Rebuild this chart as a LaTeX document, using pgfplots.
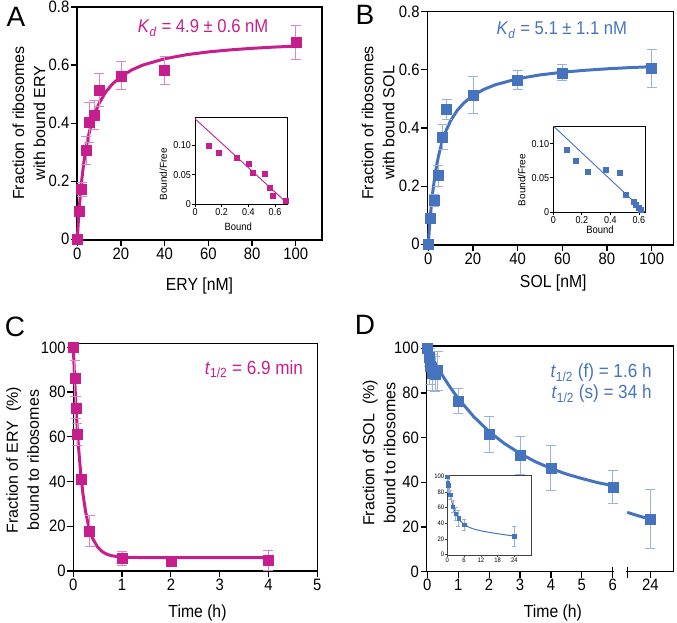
\documentclass[border=0pt]{standalone}
\usepackage{fontspec}
\setmainfont{Liberation Sans}[FakeStretch=0.9]
\newfontfamily\plainsans{Liberation Sans}
\usepackage{pgfplots}
\usepackage{pgfplotstable}
\pgfplotsset{compat=1.18}
\definecolor{mag}{RGB}{198,30,140}
\definecolor{blu}{RGB}{70,115,190}
\newcommand\fs{\fontsize{16.5}{19}\selectfont}
\pgfplotsset{
  panel/.style={
    scale only axis, clip=false, anchor=south west,
    axis line style={line width=1.3pt},
    tick align=outside, xtick pos=left, ytick pos=left,
    major tick length=6pt,
    tick style={line width=1.2pt, black},
    tick label style={font=\fs, inner sep=1.5pt},
    /pgf/number format/assume math mode=true,
    x label style={font=\fontsize{17.5}{19}\selectfont, anchor=center},
    y label style={font=\plainsans\fontsize{16}{21}\selectfont, anchor=center, align=center},
  },
  inset/.style={
    scale only axis, anchor=south west,
    axis background/.style={fill=white},
    axis line style={line width=0.9pt},
    tick align=outside, xtick pos=left, ytick pos=left,
    major tick length=3pt,
    tick style={line width=0.8pt, black},
    tick label style={font=\fontsize{10}{11}\selectfont, inner sep=1pt},
    /pgf/number format/assume math mode=true,
    x label style={font=\fontsize{10.5}{11}\selectfont, anchor=center},
    y label style={font=\plainsans\fontsize{10}{11}\selectfont, anchor=center},
  },
  dat/.style 2 args={only marks, mark=square*, mark size=#2, color=#1,
    error bars/.cd, y dir=both, y explicit,
    error bar style={#1!55, line width=0.9pt},
    error mark options={rotate=90, mark size=5pt, line width=0.9pt, #1!55}},
}

\pgfplotstableread{
x y e
0 0 0
1 0.097 0.01
2 0.172 0.023
4 0.306 0.047
5.5 0.402 0.07
7.8 0.429 0.05
10 0.515 0.056
20 0.563 0.048
40 0.582 0.049
100 0.678 0.06
}\dataA
\pgfplotstableread{
x y
0.10 0.099
0.175 0.088
0.31 0.078
0.40 0.068
0.43 0.054
0.52 0.052
0.56 0.028
0.58 0.014
0.68 0.006
}\insetA
\pgfplotstableread{
x y e
0 0 0
1 0.089 0.01
2.5 0.150 0.02
4.5 0.236 0.036
6.4 0.370 0.043
8.2 0.464 0.033
20 0.513 0.063
40 0.565 0.033
60 0.590 0.027
100 0.605 0.064
}\dataB
\pgfplotstableread{
x y
0.093 0.091
0.154 0.075
0.238 0.0585
0.369 0.062
0.463 0.058
0.509 0.025
0.561 0.0146
0.58 0.011
0.596 0.007
0.61 0.004
}\insetB
\pgfplotstableread{
x y e
0 100 0
0.033 86 8
0.05 73 5
0.083 61 5
0.167 41 2
0.333 18 7
1 5.7 3
2 4.5 1
4 4.9 4.5
}\dataC
\pgfplotstableread{
x y e
0 100 0
0.05 96 4
0.083 92 8
0.167 89 8
0.25 88.5 8
0.33 90 8.7
1 76.5 5.5
2 61.5 8
3 52 8.4
4 46.5 10
6 38 7.5
}\dataD
\pgfplotstableread{
x y e
7.215 23.5 13.2
}\dataDb
\pgfplotstableread{
x y e
0 100 0
0.083 92 8
0.167 89 8
0.25 88.5 8
0.33 90 8.7
1 76.5 5.5
2 61.5 8
3 52 8.4
4 46.5 10
6 38 7.5
24 23.5 13.2
}\insetD

\begin{document}
\begin{tikzpicture}
\useasboundingbox (0pt,0pt) rectangle (677pt,622pt);

% ---------------- Panel A
\begin{axis}[panel, at={(77pt,382pt)}, width=245pt, height=233pt,
  xmin=-0.14, xmax=112, ymin=-0.0025, ymax=0.8,
  xtick={0,20,40,60,80,100}, ytick={0,0.2,0.4,0.6,0.8},
  yticklabels={0,0.2,0.4,0.6,0.8},
  xlabel={ERY [nM]}, ylabel={Fraction of ribosomes\\with bound ERY},
  x label style={at={(axis description cs:0.5,-0.196)}},
  y label style={at={(axis description cs:-0.196,0.502)}}]
\addplot[mag, line width=3pt] coordinates {(0,0) (0.5,0.0646) (1,0.1183) (2,0.2023) (3,0.2651) (4,0.3138) (5,0.3525) (6,0.3842) (8,0.4329) (10,0.4684) (13,0.5069) (16,0.5344) (20,0.5606) (25,0.5836) (30,0.6000) (40,0.6218) (50,0.6357) (60,0.6453) (70,0.6523) (80,0.6577) (90,0.6619) (100,0.6654)};
\addplot[dat={mag}{5pt}] table[y error=e] {\dataA};
\node[mag, font=\fontsize{18.5}{18}\selectfont] at (axis cs:57.6,0.728) {\textit{K}\textsubscript{\textit{d}} = 4.9 ± 0.6 nM};
\end{axis}
\begin{axis}[inset, at={(195pt,418pt)}, width=92pt, height=87pt,
  xmin=0, xmax=0.69, ymin=0, ymax=0.148,
  xtick={0,0.2,0.4,0.6}, xticklabels={0,0.2,0.4,0.6},
  ytick={0,0.05,0.10}, yticklabels={0,0.05,0.10},
  xlabel={Bound}, ylabel={Bound/Free},
  x label style={at={(axis description cs:0.47,-0.26)}},
  y label style={at={(axis description cs:-0.345,0.34)}}]
\addplot[mag, line width=0.9pt] coordinates {(0,0.145) (0.69,0.0016)};
\addplot[only marks, mark=square*, mark size=2.5pt, color=mag] table {\insetA};
\end{axis}

% ---------------- Panel B
\begin{axis}[panel, at={(427.3pt,377pt)}, width=246pt, height=233.3pt,
  xmin=-0.45, xmax=109.7, ymin=-0.0024, ymax=0.8,
  xtick={0,20,40,60,80,100}, ytick={0,0.2,0.4,0.6,0.8},
  yticklabels={0,0.2,0.4,0.6,0.8},
  xlabel={SOL [nM]}, ylabel={Fraction of ribosomes\\with bound SOL},
  x label style={at={(axis description cs:0.512,-0.162)}},
  y label style={at={(axis description cs:-0.2,0.523)}}]
\addplot[blu, line width=3pt] coordinates {(0,0) (0.5,0.0573) (1,0.1052) (2,0.1808) (3,0.2378) (4,0.2822) (5,0.3178) (6,0.3470) (8,0.3921) (10,0.4252) (13,0.4611) (16,0.4868) (20,0.5116) (25,0.5332) (30,0.5487) (40,0.5694) (50,0.5826) (60,0.5917) (70,0.5984) (80,0.6035) (90,0.6076) (100,0.6108)};
\addplot[dat={blu}{5pt}] table[y error=e] {\dataB};
\node[blu, font=\fontsize{18.5}{18}\selectfont] at (axis cs:59.8,0.737) {\textit{K}\textsubscript{\textit{d}} = 5.1 ± 1.1 nM};
\end{axis}
\begin{axis}[inset, at={(553.3pt,410pt)}, width=92.4pt, height=85.3pt,
  xmin=0, xmax=0.647, ymin=0, ymax=0.125,
  xtick={0,0.2,0.4,0.6}, xticklabels={0,0.2,0.4,0.6},
  ytick={0,0.05,0.10}, yticklabels={0,0.05,0.10},
  xlabel={Bound}, ylabel={Bound/Free},
  x label style={at={(axis description cs:0.505,-0.21)}},
  y label style={at={(axis description cs:-0.342,0.375)}}]
\addplot[blu, line width=0.9pt] coordinates {(0,0.126) (0.642,0)};
\addplot[only marks, mark=square*, mark size=2.5pt, color=blu] table {\insetB};
\end{axis}

% ---------------- Panel C
\begin{axis}[panel, at={(73.3pt,51pt)}, width=244pt, height=227.7pt,
  xmin=0, xmax=5, ymin=0, ymax=101.8,
  xtick={0,1,2,3,4,5}, ytick={0,20,40,60,80,100},
  xlabel={Time (h)}, ylabel={Fraction of ERY \ (\%)\\bound to ribosomes},
  x label style={at={(axis description cs:0.509,-0.183)}},
  y label style={at={(axis description cs:-0.208,0.487)}}]
\addplot[mag, line width=3pt] coordinates {(0,100) (0.025,86.85) (0.05,75.54) (0.075,65.81) (0.1,57.45) (0.15,44.06) (0.2,34.16) (0.25,26.83) (0.3,21.42) (0.35,17.40) (0.4,14.43) (0.5,10.62) (0.6,8.53) (0.7,7.38) (0.8,6.76) (1.0,6.23) (1.25,6.05) (1.5,6.01) (2,6.0) (3,6.0) (4,6.0)};
\addplot[dat={mag}{5pt}] table[y error=e] {\dataC};
\node[mag, font=\fontsize{19}{19}\selectfont] at (axis cs:3.70,90.3) {\textit{t}\textsubscript{1/2} = 6.9 min};
\end{axis}

% ---------------- Panel D
\begin{axis}[panel, at={(426.7pt,50.3pt)}, width=246.6pt, height=225.7pt,
  xmin=-0.02, xmax=7.96, ymin=0, ymax=101,
  xtick={0,1,2,3,4,5,6,7.215}, xticklabels={0,1,2,3,4,5,6,24},
  ytick={0,20,40,60,80,100},
  xlabel={Time (h)}, ylabel={Fraction of SOL \ (\%)\\bound to ribosomes},
  x label style={at={(axis description cs:0.512,-0.182)}},
  y label style={at={(axis description cs:-0.193,0.526)}}]
\addplot[blu, line width=3pt] coordinates {(0,100) (0.1,97.3) (0.25,93.5) (0.5,87.6) (0.75,82.3) (1,77.5) (1.5,69.4) (2,62.7) (2.5,57.3) (3,52.9) (3.5,49.2) (4,46.2) (4.5,43.7) (5,41.7) (5.5,39.9) (6,38.5)};
\addplot[blu, line width=3pt] coordinates {(6.47,26.56) (6.718,25.47) (6.967,24.46) (7.215,23.48)};
\addplot[dat={blu}{5pt}] table[y error=e] {\dataD};
\addplot[dat={blu}{5pt}] table[y error=e] {\dataDb};
\node[blu, font=\fontsize{19}{19}\selectfont, anchor=east] at (axis cs:7.37,88.9) {\textit{t}\textsubscript{1/2} (f) = 1.6 h};
\node[blu, font=\fontsize{19}{19}\selectfont, anchor=east] at (axis cs:7.37,79.5) {\textit{t}\textsubscript{1/2} (s) = 34 h};
\coordinate (gapL) at (axis cs:6.04,0);
\coordinate (gapR) at (axis cs:6.43,0);
\coordinate (brkL) at (axis cs:6,0);
\coordinate (brkR) at (axis cs:6.47,0);
\end{axis}
\draw[white, line width=4pt] (gapL) -- (gapR);
\draw[line width=1.2pt] ([yshift=5pt]brkL) -- ([yshift=-6pt]brkL);
\draw[line width=1.2pt] ([yshift=5pt]brkR) -- ([yshift=-6pt]brkR);

\begin{axis}[inset, at={(447.3pt,67pt)}, width=84.4pt, height=79.3pt,
  axis line style={line width=0.6pt, black!75},
  major tick length=2pt, tick style={line width=0.5pt, black!75},
  tick label style={font=\fontsize{6.5}{6.5}\selectfont, inner sep=1pt},
  xmin=0, xmax=30.2, ymin=-0.9, ymax=101.3,
  xtick={0,6,12,18,24}, ytick={0,20,40,60,80,100}]
\addplot[blu, line width=1pt] coordinates {(0,100) (0.1,97.3) (0.25,93.5) (0.5,87.6) (0.75,82.3) (1,77.5) (1.5,69.4) (2,62.7) (2.5,57.3) (3,52.9) (3.5,49.2) (4,46.2) (4.5,43.7) (5,41.7) (6,38.5) (8,34.5) (10,32.0) (12,30.3) (15,28.3) (18,26.56) (21,24.96) (24,23.48)};
\addplot[only marks, mark=square*, mark size=1.7pt, color=blu,
  error bars/.cd, y dir=both, y explicit,
  error bar style={blu!55, line width=0.6pt},
  error mark options={rotate=90, mark size=2pt, line width=0.6pt, blu!55}] table[y error=e] {\insetD};
\end{axis}

% panel letters
\node[font=\plainsans\fontsize{28}{28}\selectfont] at (16pt,605pt) {A};
\node[font=\plainsans\fontsize{28}{28}\selectfont] at (365pt,607pt) {B};
\node[font=\plainsans\fontsize{28}{28}\selectfont] at (15pt,295pt) {C};
\node[font=\plainsans\fontsize{28}{28}\selectfont] at (365pt,297pt) {D};
\end{tikzpicture}
\end{document}
